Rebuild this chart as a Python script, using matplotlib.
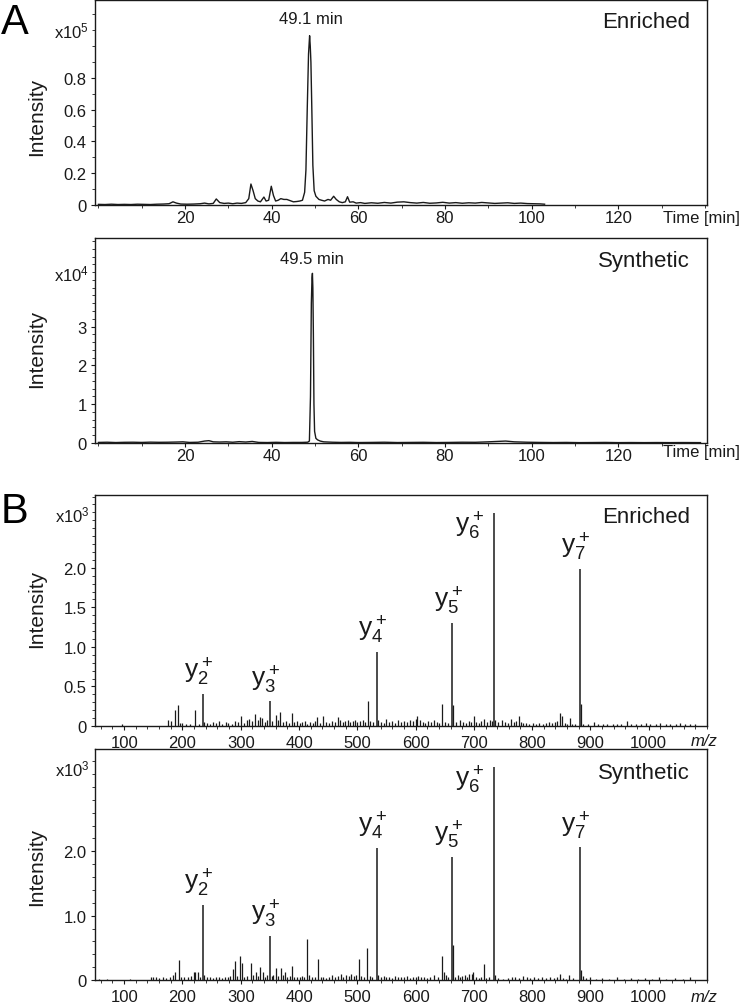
import matplotlib.pyplot as plt
from matplotlib.ticker import MultipleLocator

plt.rcParams['font.family'] = ['Liberation Sans', 'DejaVu Sans']
plt.rcParams['mathtext.default'] = 'regular'

# ---- A: extracted ion chromatograms ----
# enriched, intensity in x10^5
enr_time = [0.0, 1.5, 3, 4.5, 6, 7.5, 9, 10.5, 12, 13.5, 15, 16.3, 17.2, 18.0, 19, 20.5, 22, 23.5,
            24.5, 25.5, 26.5, 27.2, 28, 29, 30, 31, 32, 33, 34, 34.7, 35.2, 35.7, 36.2, 36.8, 37.4,
            38.2, 38.7, 39.3, 39.9, 40.4, 40.9, 41.5, 42.1, 42.8, 43.5, 44.2, 45, 45.8, 46.5, 47.1,
            47.6, 47.9, 48.2, 48.5, 48.75, 48.9, 49.05, 49.25, 49.5, 49.8, 50.2, 50.9, 51.5, 52.2,
            53, 53.6, 54.3, 54.9, 55.6, 56.3, 57, 57.5, 58, 58.8, 59.5, 60.5, 61.5, 63, 64.5, 66,
            67.5, 69, 70.5, 72, 73.5, 75, 76.5, 78, 79.5, 81, 82.5, 84, 85.5, 87, 88.5, 90, 91.5,
            93, 94.5, 96, 97.5, 99, 100.5, 102, 103]
enr_int = [0.004, 0.003, 0.005, 0.003, 0.004, 0.003, 0.005, 0.004, 0.003, 0.005, 0.006, 0.008,
           0.02, 0.012, 0.006, 0.005, 0.006, 0.008, 0.012, 0.007, 0.01, 0.038, 0.015, 0.01, 0.012,
           0.008, 0.012, 0.01, 0.015, 0.04, 0.132, 0.09, 0.04, 0.025, 0.02, 0.05, 0.025, 0.03,
           0.118, 0.06, 0.025, 0.03, 0.04, 0.035, 0.035, 0.028, 0.02, 0.022, 0.025, 0.03, 0.08,
           0.22, 0.6, 0.95, 1.065, 1.0, 0.9, 0.62, 0.25, 0.09, 0.055, 0.035, 0.03, 0.025, 0.035,
           0.03, 0.055, 0.035, 0.02, 0.015, 0.02, 0.052, 0.018, 0.02, 0.012, 0.015, 0.01, 0.014,
           0.011, 0.016, 0.012, 0.018, 0.02, 0.015, 0.012, 0.016, 0.011, 0.013, 0.017, 0.012,
           0.015, 0.011, 0.014, 0.012, 0.016, 0.013, 0.01, 0.012, 0.014, 0.01, 0.012, 0.009,
           0.008, 0.007, 0.005]

# synthetic, intensity in x10^4
syn_time = [0.0, 2, 4, 6, 8, 10, 12, 14, 16, 18, 19.5, 21, 23, 24.5, 25.5, 26.5, 28, 29.5, 31,
            32.5, 34, 35.5, 37, 39, 41, 43, 45, 47, 48.3, 48.7, 48.95, 49.15, 49.3, 49.4, 49.5,
            49.62, 49.75, 49.9, 50.2, 50.6, 51.2, 52, 54, 56, 58, 60, 63, 66, 69, 72, 75, 78, 81,
            84, 87, 90, 92, 94, 96, 99, 102, 105, 108, 111, 114, 117, 120, 123, 126, 129, 132,
            135, 139]
syn_int = [0.015, 0.02, 0.012, 0.018, 0.02, 0.015, 0.022, 0.018, 0.02, 0.025, 0.03, 0.015, 0.02,
           0.05, 0.06, 0.03, 0.025, 0.03, 0.02, 0.035, 0.025, 0.04, 0.015, 0.012, 0.018, 0.012,
           0.015, 0.015, 0.02, 0.05, 1.2, 3.6, 4.25, 4.37, 4.0, 2.8, 1.0, 0.3, 0.12, 0.08, 0.05,
           0.03, 0.02, 0.015, 0.018, 0.012, 0.015, 0.02, 0.012, 0.015, 0.018, 0.012, 0.015, 0.02,
           0.018, 0.03, 0.04, 0.05, 0.03, 0.02, 0.015, 0.012, 0.015, 0.01, 0.012, 0.015, 0.01,
           0.012, 0.01, 0.012, 0.01, 0.012, 0.01]

# ---- B: MS/MS spectra (intensity in x10^3) ----
ion_labels = ['y$_2^+$', 'y$_3^+$', 'y$_4^+$', 'y$_5^+$', 'y$_6^+$', 'y$_7^+$']
ion_mz = [234.9, 349.6, 533.7, 663.0, 735.0, 882.0]
enr_ion_int = [0.40, 0.31, 0.93, 1.30, 2.69, 1.99]
syn_ion_int = [1.16, 0.69, 2.05, 1.91, 3.31, 2.06]

enr_mz = [97, 176, 180, 187, 193, 196, 200, 206, 213, 221.6, 228, 237, 242, 247, 252, 258, 263,
          268, 274, 279, 285, 290, 295, 300.8, 305, 310, 315, 320, 325, 329, 333, 337, 341, 345,
          354, 360, 364, 368, 372, 377, 382, 388, 392, 397, 401, 405, 410, 414, 419, 424, 428,
          431.6, 436, 442, 447, 452, 456, 461, 467, 471, 475, 479, 484, 488, 492, 496, 500, 505,
          509, 513, 517.7, 522, 527, 536, 540, 545, 550, 555, 560, 565, 570, 575, 580, 585, 590,
          595, 600, 603, 607, 612, 617, 622, 627, 632, 637, 641, 645, 650, 655, 665, 670, 676.6,
          681, 686, 691, 695, 699.6, 704, 709, 713, 717, 722, 727, 731, 737, 741, 748, 753, 758,
          764, 769, 773, 777, 781, 785, 789, 795, 801, 807, 812, 818, 824, 829, 834, 839, 843,
          847.5, 851, 856, 860, 864.7, 869, 874, 884, 888, 895, 906, 913, 921, 929, 938, 946,
          953, 962, 970, 978, 986, 995, 1003, 1012, 1020, 1029, 1037, 1046, 1054, 1063, 1071,
          1079]
enr_ms = [0.02, 0.07, 0.06, 0.20, 0.27, 0.04, 0.04, 0.03, 0.02, 0.20, 0.03, 0.05, 0.04, 0.03,
          0.05, 0.04, 0.06, 0.03, 0.05, 0.04, 0.03, 0.06, 0.05, 0.13, 0.04, 0.07, 0.09, 0.06,
          0.15, 0.07, 0.11, 0.10, 0.05, 0.08, 0.06, 0.14, 0.07, 0.18, 0.05, 0.06, 0.04, 0.16,
          0.05, 0.06, 0.04, 0.05, 0.06, 0.03, 0.05, 0.04, 0.06, 0.11, 0.04, 0.13, 0.05, 0.04,
          0.06, 0.05, 0.11, 0.07, 0.05, 0.06, 0.07, 0.05, 0.06, 0.07, 0.05, 0.06, 0.08, 0.05,
          0.31, 0.06, 0.05, 0.08, 0.05, 0.04, 0.09, 0.05, 0.06, 0.04, 0.07, 0.05, 0.06, 0.05,
          0.07, 0.06, 0.09, 0.13, 0.07, 0.05, 0.04, 0.06, 0.05, 0.07, 0.05, 0.04, 0.28, 0.05,
          0.04, 0.26, 0.05, 0.08, 0.05, 0.04, 0.06, 0.05, 0.13, 0.05, 0.04, 0.06, 0.09, 0.05,
          0.08, 0.06, 0.08, 0.05, 0.07, 0.05, 0.04, 0.09, 0.05, 0.06, 0.13, 0.05, 0.04, 0.04,
          0.03, 0.04, 0.03, 0.04, 0.03, 0.04, 0.05, 0.04, 0.05, 0.06, 0.17, 0.13, 0.04, 0.03,
          0.10, 0.03, 0.02, 0.28, 0.03, 0.02, 0.05, 0.02, 0.03, 0.02, 0.03, 0.02, 0.03, 0.06,
          0.02, 0.03, 0.02, 0.04, 0.02, 0.03, 0.04, 0.02, 0.03, 0.02, 0.04, 0.02, 0.03, 0.02]

syn_mz = [57, 70, 110, 146, 150, 155, 160, 166, 172, 178, 183, 188, 193.5, 198, 203, 209, 214,
          219, 222, 226, 230, 237, 242, 248, 253, 258, 263, 268, 273, 278, 282, 286, 290, 294,
          299, 302, 306, 311, 316.8, 321, 326, 330, 333.5, 338, 342, 345, 353, 356, 360, 364,
          368.5, 372, 376, 380, 384, 388, 392, 397, 401, 405, 409, 413.8, 418, 423, 428, 432.7,
          437, 442, 447, 452, 457, 462, 467, 472, 476, 481, 486, 490, 494, 498, 502.7, 506, 511,
          517, 521, 526, 536, 540, 545, 550, 555, 560, 565, 570, 575, 580, 585, 590, 595, 600,
          605, 610, 615, 620, 625, 632, 638, 645, 648, 652, 656, 664.5, 668, 672, 676, 680, 684,
          688, 692, 696, 699, 703, 708, 712, 716.8, 721, 726, 737, 742, 750, 758, 766, 771, 778,
          785, 791, 797, 803, 810, 817, 824, 830, 837, 842, 847, 853, 858, 864, 870, 884, 888,
          893, 900, 910, 920, 932, 945, 958, 970, 982, 993, 1005, 1018, 1030, 1045, 1058, 1070]
syn_ms = [0.02, 0.015, 0.01, 0.05, 0.04, 0.05, 0.03, 0.04, 0.03, 0.05, 0.07, 0.12, 0.31, 0.04,
          0.05, 0.04, 0.06, 0.12, 0.13, 0.12, 0.05, 0.08, 0.04, 0.05, 0.03, 0.04, 0.05, 0.03,
          0.05, 0.04, 0.06, 0.17, 0.30, 0.06, 0.37, 0.27, 0.05, 0.06, 0.27, 0.08, 0.12, 0.06,
          0.20, 0.12, 0.05, 0.07, 0.06, 0.08, 0.19, 0.06, 0.19, 0.07, 0.13, 0.05, 0.06, 0.22,
          0.04, 0.05, 0.04, 0.06, 0.05, 0.63, 0.07, 0.05, 0.04, 0.33, 0.04, 0.05, 0.03, 0.05,
          0.07, 0.04, 0.06, 0.09, 0.05, 0.07, 0.06, 0.09, 0.06, 0.08, 0.33, 0.06, 0.05, 0.49,
          0.06, 0.05, 0.07, 0.05, 0.06, 0.04, 0.05, 0.03, 0.06, 0.04, 0.05, 0.04, 0.06, 0.03,
          0.05, 0.04, 0.06, 0.04, 0.05, 0.03, 0.04, 0.07, 0.05, 0.38, 0.13, 0.08, 0.05, 0.55,
          0.05, 0.07, 0.04, 0.06, 0.08, 0.05, 0.09, 0.10, 0.12, 0.04, 0.03, 0.05, 0.25, 0.03,
          0.04, 0.08, 0.03, 0.02, 0.03, 0.05, 0.04, 0.03, 0.06, 0.04, 0.03, 0.05, 0.03, 0.04,
          0.03, 0.04, 0.03, 0.04, 0.09, 0.03, 0.02, 0.07, 0.03, 0.15, 0.06, 0.03, 0.04, 0.02,
          0.03, 0.02, 0.04, 0.02, 0.03, 0.02, 0.03, 0.02, 0.04, 0.02, 0.03, 0.02, 0.04]

INK = '#1a1a1a'


def style(ax, xlim, xmajor, xminor, ylim, yticks, ylabels, yminor, xpad):
    ax.set_xlim(xlim)
    ax.set_ylim(ylim)
    ax.xaxis.set_major_locator(MultipleLocator(xmajor))
    ax.xaxis.set_minor_locator(MultipleLocator(xminor))
    ax.set_yticks(yticks, labels=ylabels)
    ax.yaxis.set_minor_locator(MultipleLocator(yminor))
    ax.tick_params(which='both', direction='out', colors=INK, labelsize=12)
    ax.tick_params(which='major', length=3, width=0.8)
    ax.tick_params(which='minor', length=2, width=0.6)
    ax.tick_params(axis='x', pad=xpad)
    ax.tick_params(axis='y', pad=3)
    for s in ax.spines.values():
        s.set_color(INK)
        s.set_linewidth(1.0)


fig = plt.figure(figsize=(7.42, 10.04), dpi=100)
W, H = 742.0, 1004.0


def axes_px(left, top, right, bottom):
    return fig.add_axes([left / W, 1 - bottom / H, (right - left) / W, (bottom - top) / H])


ax1 = axes_px(95, 1, 707, 206)
ax2 = axes_px(95, 239, 707, 444)
ax3 = axes_px(95, 496, 707, 727)
ax4 = axes_px(95, 750, 707, 981)

# chromatograms
ax1.plot(enr_time, enr_int, color=INK, lw=1.0)
style(ax1, (-0.8, 140.5), 20, 10, (0, 1.29), [0, 0.2, 0.4, 0.6, 0.8],
      ['0', '0.2', '0.4', '0.6', '0.8'], 0.1, 0.5)
ax1.set_xticks([20, 40, 60, 80, 100, 120])
ax1.annotate('49.1 min', xy=(48.75, 1.065), xytext=(1, 7), textcoords='offset points',
             ha='center', va='bottom', fontsize=12, color=INK)

ax2.plot(syn_time, syn_int, color=INK, lw=1.0)
style(ax2, (-0.8, 140.5), 20, 10, (0, 5.28), [0, 1, 2, 3], ['0', '1', '2', '3'], 0.2, 0.5)
ax2.set_xticks([20, 40, 60, 80, 100, 120])
ax2.annotate('49.5 min', xy=(49.4, 4.37), xytext=(0, 5), textcoords='offset points',
             ha='center', va='bottom', fontsize=12, color=INK)

# spectra
for ax, mz, ms, ion_int in [(ax3, enr_mz, enr_ms, enr_ion_int), (ax4, syn_mz, syn_ms, syn_ion_int)]:
    ax.vlines(mz, 0, ms, color=INK, lw=0.9)
    ax.vlines(ion_mz, 0, ion_int, color=INK, lw=1.1)
    for lab, x, y in zip(ion_labels, ion_mz, ion_int):
        if lab.startswith('y$_6'):
            ax.annotate(lab, xy=(x, y), xytext=(-18, 3), textcoords='offset points',
                        ha='center', va='top', fontsize=19, color=INK)
        else:
            ax.annotate(lab, xy=(x, y), xytext=(-3, 5), textcoords='offset points',
                        ha='center', va='bottom', fontsize=19, color=INK)

style(ax3, (50, 1100), 100, 20, (0, 2.92), [0, 0.5, 1.0, 1.5, 2.0],
      ['0', '0.5', '1.0', '1.5', '2.0'], 0.1, 3.5)
style(ax4, (50, 1100), 100, 20, (0, 3.59), [0, 1.0, 2.0], ['0', '1.0', '2.0'], 0.2, 3.5)
for ax in (ax3, ax4):
    ax.set_xticks(range(100, 1001, 100))

# sample names
for ax, name, yf in [(ax1, 'Enriched', 0.893), (ax2, 'Synthetic', 0.89),
                     (ax3, 'Enriched', 0.905), (ax4, 'Synthetic', 0.90)]:
    ax.text(0.972, yf, name, transform=ax.transAxes, ha='right', va='center',
            fontsize=16, color=INK)

# scale multipliers
for ax, txt, yv in [(ax1, 'x10$^5$', 1.1), (ax2, 'x10$^4$', 4.37),
                    (ax3, 'x10$^3$', 2.68), (ax4, 'x10$^3$', 3.28)]:
    ax.annotate(txt, xy=(0, yv), xycoords=('axes fraction', 'data'), xytext=(-4, 0),
                textcoords='offset points', ha='right', va='center', fontsize=12, color=INK)

# axis titles
for yc in [117, 349, 609, 867]:
    fig.text(37 / W, 1 - yc / H, 'Intensity', rotation=90, ha='center', va='center',
             fontsize=15, color=INK)
fig.text(740 / W, 1 - 218 / H, 'Time [min]', ha='right', va='center', fontsize=12, color=INK)
fig.text(740 / W, 1 - 453 / H, 'Time [min]', ha='right', va='center', fontsize=12, color=INK)
fig.text(704 / W, 1 - 741 / H, 'm/z', ha='center', va='center', fontsize=12,
         style='italic', color=INK)
fig.text(704 / W, 1 - 998 / H, 'm/z', ha='center', va='center', fontsize=12,
         style='italic', color=INK)

fig.text(1 / W, 1 - 3 / H, 'A', ha='left', va='top', fontsize=30, color='black')
fig.text(1 / W, 1 - 492 / H, 'B', ha='left', va='top', fontsize=30, color='black')

fig.savefig('out.png', dpi=100)
